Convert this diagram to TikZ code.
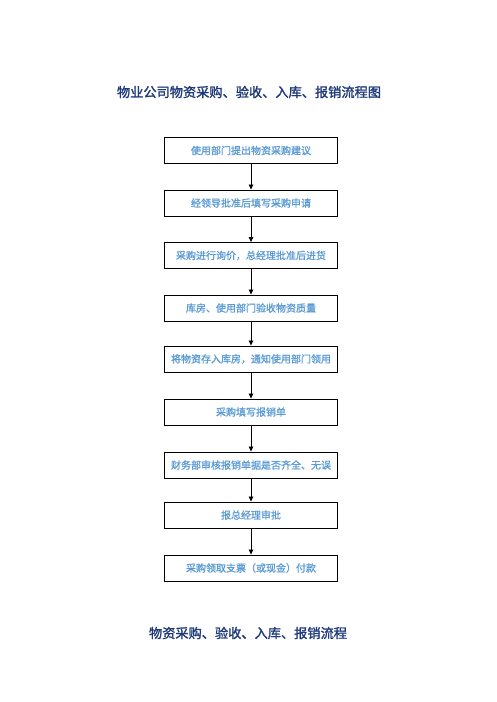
\documentclass[tikz,border=0pt]{standalone}
\usepackage{fontspec}
\setmainfont{Noto Sans CJK SC}
\newfontfamily\boldcjk[FakeBold=1.6]{Noto Sans CJK SC}
\newfontfamily\semicjk[FakeBold=1.2]{Noto Sans CJK SC}
\usetikzlibrary{arrows.meta}
\definecolor{titleblue}{HTML}{1F3A78}
\definecolor{boxtext}{HTML}{5B9BD5}
\begin{document}
\begin{tikzpicture}[x=1pt,y=-1pt,
  stepbox/.style={draw=black,line width=0.9pt,minimum width=173pt,minimum height=26pt,inner sep=0pt,text=boxtext,font=\semicjk\fontsize{10}{12}\selectfont},
  conn/.style={-{Triangle[length=5pt,width=4.5pt]},line width=0.8pt},
  ttl/.style={text=titleblue,font=\boldcjk\fontsize{13.2}{15}\selectfont}]
\useasboundingbox[fill=white] (0,0) rectangle (496,702);
\node[ttl] (t1) at (249,92) {物业公司物资采购、验收、入库、报销流程图};
\node[stepbox] (b1) at (251,150.5) {使用部门提出物资采购建议};
\node[stepbox] (b2) at (251,203) {经领导批准后填写采购申请};
\node[stepbox] (b3) at (251,255.5) {采购进行询价，总经理批准后进货};
\node[stepbox] (b4) at (251,308) {库房、使用部门验收物资质量};
\node[stepbox] (b5) at (251,359) {将物资存入库房，通知使用部门领用};
\node[stepbox] (b6) at (251,412) {采购填写报销单};
\node[stepbox] (b7) at (251,465) {财务部审核报销单据是否齐全、无误};
\node[stepbox] (b8) at (251,515) {报总经理审批};
\node[stepbox] (b9) at (251,568) {采购领取支票（或现金）付款};
\node[ttl] (t2) at (248,633) {物资采购、验收、入库、报销流程};
\foreach \a/\b in {b1/b2,b2/b3,b3/b4,b4/b5,b5/b6,b6/b7,b7/b8,b8/b9}
  \draw[conn] (\a) -- (\b);
\end{tikzpicture}
\end{document}
